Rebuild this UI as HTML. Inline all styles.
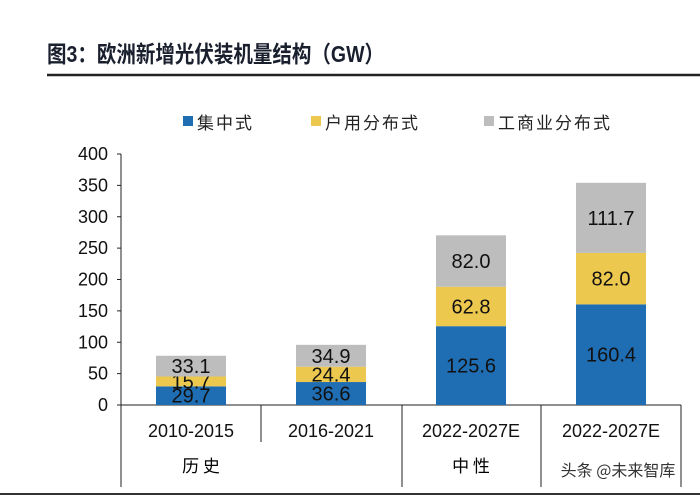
<!DOCTYPE html>
<html><head><meta charset="utf-8"><style>
body{margin:0;background:#fff;width:700px;height:497px;overflow:hidden;font-family:"Liberation Sans","Noto Sans CJK SC",sans-serif}
</style></head><body>
<svg width="700" height="497">
<text x="47" y="62" font-size="23" font-weight="bold" fill="#1a1f2e" textLength="337" lengthAdjust="spacingAndGlyphs" font-family="Liberation Sans,Noto Sans CJK SC,sans-serif">图3：欧洲新增光伏装机量结构（GW）</text>
<line x1="47" y1="75" x2="700" y2="75" stroke="#222" stroke-width="2.5"/>
<g id="legend" font-size="17" fill="#222" font-family="Liberation Sans,Noto Sans CJK SC,sans-serif"></g>
<g id="axis" font-size="18" fill="#111"></g>
<g id="bars"></g>
<g id="cats" font-size="18" fill="#111"></g>
<line x1="121" y1="405" x2="121" y2="487" stroke="#222"/>
<line x1="261" y1="405" x2="261" y2="442" stroke="#222"/>
<line x1="402" y1="405" x2="402" y2="487" stroke="#222"/>
<line x1="541" y1="405" x2="541" y2="487" stroke="#222"/>
<line x1="681" y1="405" x2="681" y2="487" stroke="#222"/>
<line x1="0" y1="494" x2="700" y2="494" stroke="#333" stroke-width="2"/>
<text x="201" y="472" font-size="17" text-anchor="middle" font-family="Noto Sans CJK SC,sans-serif">历 史</text>
<text x="471" y="472" font-size="17" text-anchor="middle" font-family="Noto Sans CJK SC,sans-serif">中 性</text>
<text x="618" y="476" font-size="16" text-anchor="middle" fill="#333" font-family="Noto Sans CJK SC,sans-serif">头条 @未来智库</text>
</svg>
<script>
const categories=["2010-2015","2016-2021","2022-2027E","2022-2027E"];
const series=["集中式","户用分布式","工商业分布式"];
const central=[29.7,36.6,125.6,160.4];
const residential=[15.7,24.4,62.8,82.0];
const commercial=[33.1,34.9,82.0,111.7];
const ticks=[0,50,100,150,200,250,300,350,400];
const colors=["#1f6db3","#edc84f","#bdbdbd"];
const NS="http://www.w3.org/2000/svg";
const x0=121,plotW=560,y0=405,yTop=154,maxV=400;
const y=v=>y0-(v/maxV)*(y0-yTop);
const bw=plotW/categories.length;
function mk(tag,attrs,parent,text){const e=document.createElementNS(NS,tag);for(const k in attrs)e.setAttribute(k,attrs[k]);if(text!==undefined)e.textContent=text;parent.appendChild(e);return e;}
const ax=document.getElementById('axis');
const yl=mk('line',{x1:x0,y1:y0,x2:x0,y2:yTop,stroke:'#222'},ax);


const xl=mk('line',{x1:x0,y1:y0,x2:x0+plotW,y2:y0,stroke:'#222'},ax);


ticks.forEach(t=>{
 const tk=mk('line',{x1:x0-4,y1:y(t),x2:x0,y2:y(t),stroke:'#222'},ax);
 
 
 const tl=mk('text',{x:x0-13,y:y(t)+6,'text-anchor':'end'},ax,String(t));
 
 
});
const lg=document.getElementById('legend');
const lx=[183,311,484];
series.forEach((s,i)=>{
 const r=mk('rect',{x:lx[i],y:116,width:10,height:10,fill:colors[i]},lg);
 
 
 const t=mk('text',{x:lx[i]+14,y:129,'letter-spacing':'2'},lg,s);
 
 
});
const bars=document.getElementById('bars');
const cats=document.getElementById('cats');
const data=[central,residential,commercial];
categories.forEach((c,i)=>{
 const cx=x0+bw*i+bw/2;let base=0;
 data.forEach((arr,j)=>{
  const v=arr[i];
  const r=mk('rect',{x:cx-35,y:y(base+v),width:70,height:y(base)-y(base+v),fill:colors[j]},bars);
  
  
  const t=mk('text',{x:cx,y:(y(base)+y(base+v))/2+7,'text-anchor':'middle','font-size':20,fill:'#111'},bars,v.toFixed(1));
  
  
  base+=v;
 });
 const ct=mk('text',{x:cx,y:437,'text-anchor':'middle'},cats,c);
 
 
});
</script>
</body></html>
